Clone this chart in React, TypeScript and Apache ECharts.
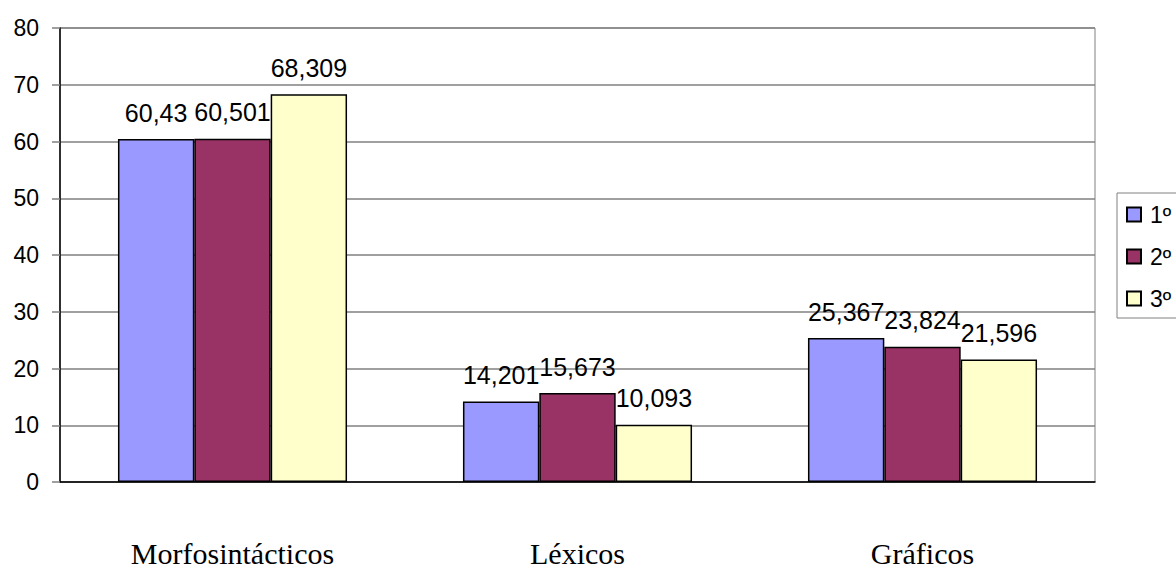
import React, { useEffect, useRef } from "react";
import * as echarts from "echarts";

const categories = ["Morfosintácticos", "Léxicos", "Gráficos"];
const seriesNames = ["1º", "2º", "3º"];
const values1 = [60.43, 14.201, 25.367];
const values2 = [60.501, 15.673, 23.824];
const values3 = [68.309, 10.093, 21.596];
const colors = ["#9999FF", "#993366", "#FFFFCC"];

export default function App() {
  const ref = useRef<HTMLDivElement>(null);
  useEffect(() => {
    if (!ref.current) return;
    const chart = echarts.init(ref.current, null, { renderer: "svg" });
    const allValues = [values1, values2, values3];
    chart.setOption({
      animation: false,
      backgroundColor: "#ffffff",
      grid: {
        left: 60,
        right: 81,
        top: 28,
        bottom: 86,
        show: true,
        borderColor: "#808080",
        borderWidth: 1,
        backgroundColor: "transparent",
      },
      legend: {
        orient: "vertical",
        left: 1117,
        top: 193,
        borderColor: "#808080",
        borderWidth: 1,
        padding: [10, 30, 8, 9],
        itemWidth: 14,
        itemHeight: 14,
        itemGap: 19,
        icon: "rect",
        textStyle: {
          fontFamily: "Arial, 'Liberation Sans', sans-serif",
          fontSize: 23,
          color: "#000",
          padding: [0, 0, 0, 4],
        },
        data: seriesNames,
      },
      xAxis: {
        type: "category",
        data: categories,
        axisTick: { show: false },
        axisLine: { lineStyle: { color: "#000", width: 1.5 } },
        axisLabel: {
          margin: 58,
          fontFamily: "'Liberation Serif', 'Times New Roman', serif",
          fontSize: 30,
          lineHeight: 26,
          color: "#000",
        },
      },
      yAxis: {
        type: "value",
        min: 0,
        max: 80,
        interval: 10,
        axisLine: { show: true, lineStyle: { color: "#000", width: 1.5 } },
        axisTick: { show: true, length: 8, lineStyle: { color: "#808080", width: 1.5 } },
        splitLine: { lineStyle: { color: "#808080", width: 1.5 } },
        axisLabel: {
          margin: 21,
          fontFamily: "Arial, 'Liberation Sans', sans-serif",
          fontSize: 23,
          color: "#000",
        },
      },
      series: allValues.map((vals, i) => ({
        name: seriesNames[i],
        type: "bar",
        data: vals,
        barGap: "0%",
        barCategoryGap: "33.6%",
        itemStyle: { color: colors[i], borderColor: "#000", borderWidth: 1.5 },
        label: {
          show: true,
          position: "top",
          distance: 14,
          fontFamily: "Arial, 'Liberation Sans', sans-serif",
          fontSize: 25,
          color: "#000",
          formatter: (p: any) => String(p.value).replace(".", ","),
        },
      })),
    });
    return () => chart.dispose();
  }, []);
  return (
    <div
      ref={ref}
      style={{ position: "fixed", left: 0, top: 0, width: 1176, height: 568 }}
    />
  );
}
